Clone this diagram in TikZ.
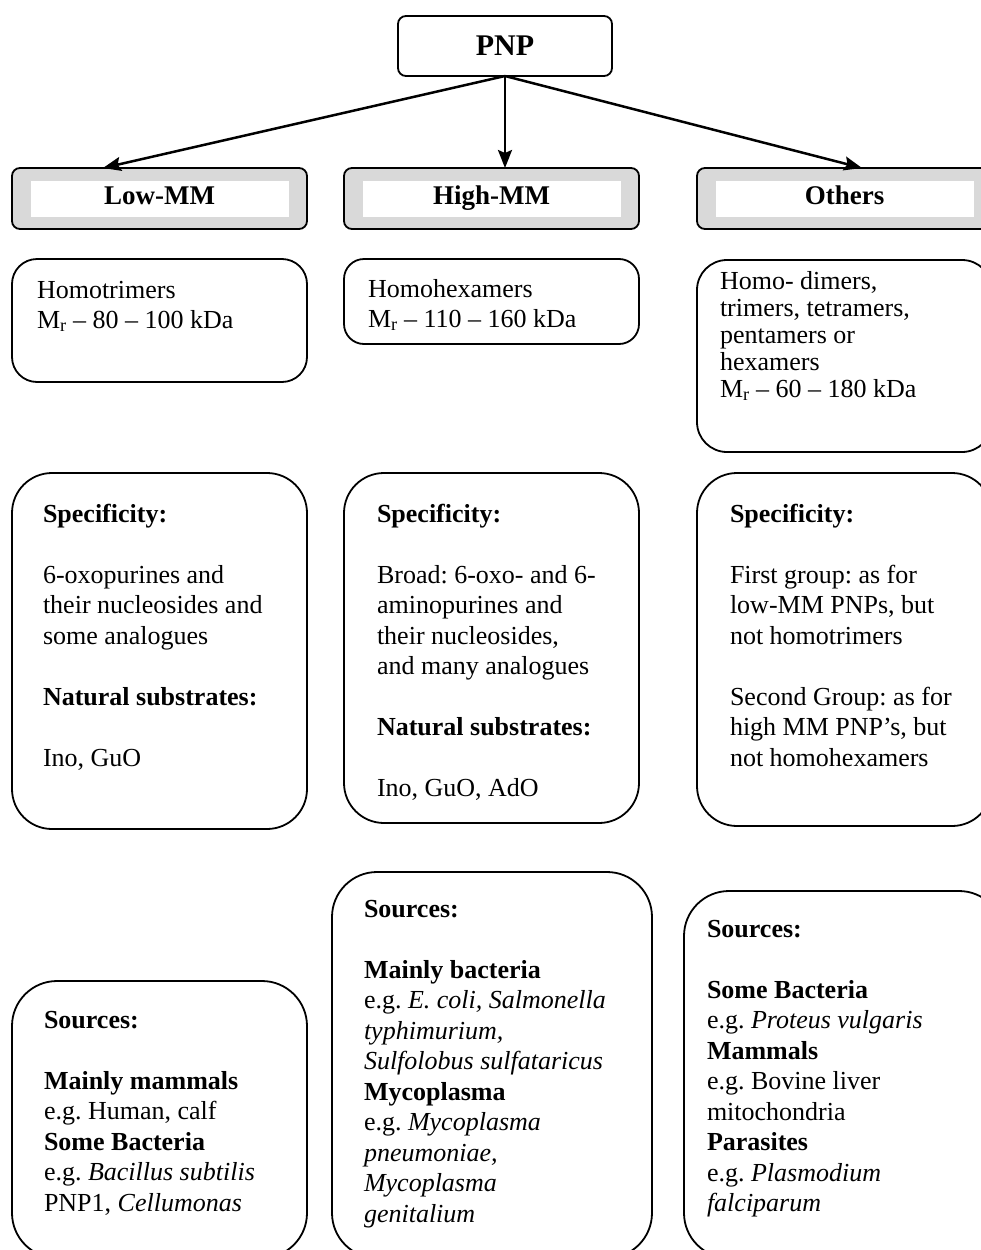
\documentclass[tikz,border=0pt]{standalone}
\usepackage{fontspec}
\setmainfont{Liberation Serif}
\usetikzlibrary{arrows.meta,calc}
\definecolor{boxgray}{RGB}{217,217,217}
\frenchspacing
\newcommand\tb[2]{\parbox[t]{300pt}{\fontsize{26}{#1}\selectfont\raggedright\frenchspacing #2}}
\begin{document}
\begin{tikzpicture}[x=1pt,y=-1pt,
  box/.style={draw, line width=1.8pt, rounded corners=#1, inner sep=0pt, outer sep=0pt, anchor=north west},
  catbox/.style={box=8pt, fill=boxgray, minimum width=295pt, minimum height=61pt},
  catlabel/.style={fill=white, inner sep=0pt, minimum width=258pt, minimum height=36pt, text height=18pt, text depth=6pt, font=\fontsize{27}{32}\selectfont\bfseries},
  txt/.style={inner sep=0pt, outer sep=0pt, anchor=base west},
  arr/.style={line width=2.5pt, -{Stealth[length=18pt, width=14pt, inset=3pt]}}]
\path[use as bounding box] (0,0) rectangle (981,1250);
\begin{scope}
\clip (0,0) rectangle (981,1250);
% top
\node[box=8pt, minimum width=214pt, minimum height=60pt, font=\fontsize{30}{36}\selectfont\bfseries] (pnp) at (398,16) {PNP};
% categories
\node[catbox] (low) at (12,168) {};
\node[catbox] (high) at (344,168) {};
\node[catbox] (others) at (697,168) {};
\node[catlabel] (lowl) at (low.center) {Low-MM};
\node[catlabel] (highl) at (high.center) {High-MM};
\node[catlabel] (othersl) at (others.center) {Others};
% arrows
\draw[arr] (pnp.south) -- ($(low.north west)+(91,0)$);
\draw[arr] (pnp.south) -- ($(high.north west)+(161,0)$);
\draw[arr] (pnp.south) -- ($(others.north west)+(165,0)$);
% structure boxes
\node[box=25pt, minimum width=295pt, minimum height=123pt] (homo1) at (12,259) {};
\node[box=20pt, minimum width=295pt, minimum height=85pt] (homo2) at (344,259) {};
\node[box=30pt, minimum width=295pt, minimum height=192pt] (homo3) at (697,260) {};
\node[txt] (homo1t) at (37,298) {\tb{30}{Homotrimers\\M\textsubscript{r} -- 80 -- 100 kDa}};
\node[txt] (homo2t) at (368,297) {\tb{30}{Homohexamers\\M\textsubscript{r} -- 110 -- 160 kDa}};
\node[txt] (homo3t) at (720,289) {\tb{27}{Homo- dimers,\\trimers, tetramers,\\pentamers or\\hexamers\\M\textsubscript{r} -- 60 -- 180 kDa}};
% specificity boxes
\node[box=40pt, minimum width=295pt, minimum height=356pt] (spec1) at (12,473) {};
\node[box=40pt, minimum width=295pt, minimum height=350pt] (spec2) at (344,473) {};
\node[box=40pt, minimum width=295pt, minimum height=353pt] (spec3) at (697,473) {};
\node[txt] (spec1t) at (43,522) {\tb{30.5}{\textbf{Specificity:}\\[30.5pt]6-oxopurines and\\their nucleosides and\\some analogues\\[30.5pt]\textbf{Natural substrates:}\\[30.5pt]Ino, GuO}};
\node[txt] (spec2t) at (377,522) {\tb{30.5}{\textbf{Specificity:}\\[30.5pt]Broad: 6-oxo- and 6-\\aminopurines and\\their nucleosides,\\and many analogues\\[30.5pt]\textbf{Natural substrates:}\\[30.5pt]Ino, GuO, AdO}};
\node[txt] (spec3t) at (730,522) {\tb{30.5}{\textbf{Specificity:}\\[30.5pt]First group: as for\\low-MM PNPs, but\\not homotrimers\\[30.5pt]Second Group: as for\\high MM PNP’s, but\\not homohexamers}};
% sources boxes
\node[box=45pt, minimum width=295pt, minimum height=277pt] (src1) at (12,981) {};
\node[box=45pt, minimum width=320pt, minimum height=386pt] (src2) at (332,872) {};
\node[box=45pt, minimum width=320pt, minimum height=367pt] (src3) at (684,891) {};
\node[txt] (src1t) at (44,1028) {\tb{30.5}{\textbf{Sources:}\\[30.5pt]\textbf{Mainly mammals}\\e.g. Human, calf\\\textbf{Some Bacteria}\\e.g. \textit{Bacillus subtilis}\\PNP1, \textit{Cellumonas}}};
\node[txt] (src2t) at (364,917) {\tb{30.5}{\textbf{Sources:}\\[30.5pt]\textbf{Mainly bacteria}\\e.g. \textit{E. coli, Salmonella}\\\textit{typhimurium,}\\\textit{Sulfolobus sulfataricus}\\\textbf{Mycoplasma}\\e.g. \textit{Mycoplasma}\\\textit{pneumoniae,}\\\textit{Mycoplasma}\\\textit{genitalium}}};
\node[txt] (src3t) at (707,937) {\tb{30.5}{\textbf{Sources:}\\[30.5pt]\textbf{Some Bacteria}\\e.g. \textit{Proteus vulgaris}\\\textbf{Mammals}\\e.g. Bovine liver\\mitochondria\\\textbf{Parasites}\\e.g. \textit{Plasmodium}\\\textit{falciparum}}};
\end{scope}
\end{tikzpicture}
\end{document}
